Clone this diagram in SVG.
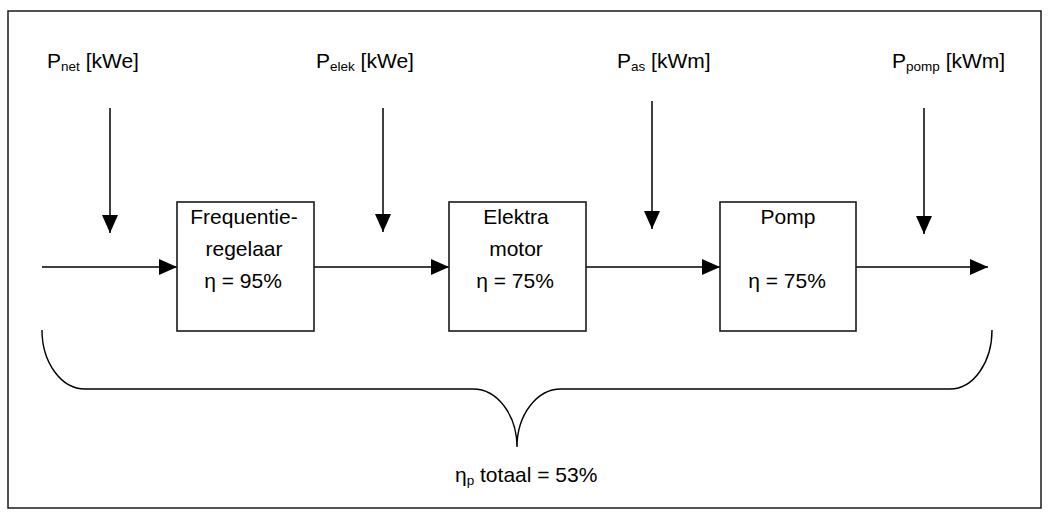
<svg xmlns="http://www.w3.org/2000/svg" width="1050" height="520" viewBox="0 0 1050 520">
  <style>
    .frame { fill: #ffffff; stroke: #1a1a1a; stroke-width: 1.5; }
    .box { fill: #ffffff; stroke: #1a1a1a; stroke-width: 1.6; }
    .wire { fill: none; stroke: #000000; stroke-width: 1.5; }
    .brace { fill: none; stroke: #000000; stroke-width: 1.4; }
    text { font-family: "Liberation Sans", Arial, sans-serif; fill: #000000; font-size: 21px; }
    .in { text-anchor: middle; }
    .sub { font-size: 13.5px; }
  </style>
  <defs>
    <marker id="ah" viewBox="0 0 18 16" refX="18" refY="8" markerWidth="18" markerHeight="16" markerUnits="userSpaceOnUse" orient="auto">
      <path d="M0,0 L18,8 L0,16 Z" fill="#000000"/>
    </marker>
  </defs>

  <rect class="frame" x="8" y="11" width="1033" height="497"/>

  <!-- power flow chain -->
  <g id="connectors">
    <line class="wire" x1="42" y1="267" x2="177" y2="267" marker-end="url(#ah)"/>
    <line class="wire" x1="314" y1="267" x2="449" y2="267" marker-end="url(#ah)"/>
    <line class="wire" x1="586" y1="267" x2="720" y2="267" marker-end="url(#ah)"/>
    <line class="wire" x1="856" y1="267" x2="988" y2="267" marker-end="url(#ah)"/>
    <line class="wire" x1="110" y1="108" x2="110" y2="233" marker-end="url(#ah)"/>
    <line class="wire" x1="383" y1="108" x2="383" y2="232" marker-end="url(#ah)"/>
    <line class="wire" x1="652" y1="101" x2="652" y2="229" marker-end="url(#ah)"/>
    <line class="wire" x1="924" y1="108" x2="924" y2="234" marker-end="url(#ah)"/>
    <!-- overall efficiency brace -->
    <path class="brace" d="M42,330 A43,59 0 0 0 85,389 L473,389 A44,58 0 0 1 517,447 A44,58 0 0 1 561,389 L950,389 A42,59 0 0 0 992,330"/>
  </g>

  <g id="label-pnet">
    <text x="47" y="68">P<tspan class="sub" dy="3">net</tspan><tspan dy="-3"> [kWe]</tspan></text>
  </g>
  <g id="label-pelek">
    <text x="316" y="68">P<tspan class="sub" dy="3">elek</tspan><tspan dy="-3"> [kWe]</tspan></text>
  </g>
  <g id="label-pas">
    <text x="617" y="68">P<tspan class="sub" dy="3">as</tspan><tspan dy="-3"> [kWm]</tspan></text>
  </g>
  <g id="label-ppomp">
    <text x="892" y="68">P<tspan class="sub" dy="3">pomp</tspan><tspan dy="-3"> [kWm]</tspan></text>
  </g>

  <g id="frequentieregelaar">
    <rect class="box" x="177" y="202" width="137" height="129"/>
    <text class="in" x="244" y="224">Frequentie-</text>
    <text class="in" x="244" y="256">regelaar</text>
    <text class="in" x="243" y="288">η = 95%</text>
  </g>

  <g id="elektramotor">
    <rect class="box" x="449" y="202" width="137" height="129"/>
    <text class="in" x="516" y="224">Elektra</text>
    <text class="in" x="516" y="256">motor</text>
    <text class="in" x="515" y="288">η = 75%</text>
  </g>

  <g id="pomp">
    <rect class="box" x="720" y="202" width="136" height="129"/>
    <text class="in" x="788" y="224">Pomp</text>
    <text class="in" x="787" y="288">η = 75%</text>
  </g>

  <g id="totaal">
    <text x="455" y="482">η<tspan class="sub" dy="3">p</tspan><tspan dy="-3"> totaal = 53%</tspan></text>
  </g>
</svg>
